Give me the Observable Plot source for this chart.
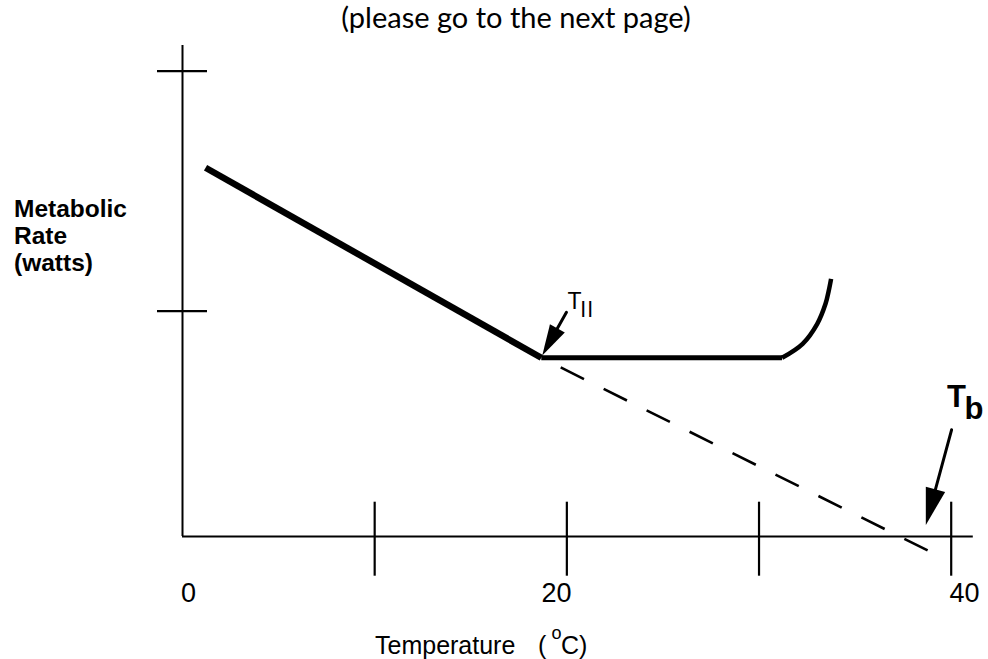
<!DOCTYPE html>
<html><head><meta charset="utf-8">
<script src="https://cdn.jsdelivr.net/npm/d3@7"></script>
<script src="https://cdn.jsdelivr.net/npm/@observablehq/plot@0.6"></script>
<style>html,body{margin:0;padding:0;background:#fff;} #chart svg{display:block;}</style>
</head><body><div id="chart"></div>
<script>
// ---------- data (temperature in °C, metabolic rate in arbitrary watts units) ----------
const coolingTemp = [1.2, 18.67];
const coolingRate = [75.1, 36.4];
const plateauTemp = [18.67, 31.2];
const plateauRate = [36.4, 36.4];
const heatTemp = [31.2, 32.27, 33.03, 33.46, 33.63, 33.75];
const heatRate = [36.4, 39.25, 43.32, 47.39, 50.1, 52.48];
const extrapTemp = [18.67, 38.78];
const extrapRate = [36.4, -2.85];
const xTickValues = [10, 20, 30, 40];
const xLabelValues = [0, 20, 40];
const xLabelTexts = ["0", "20", "40"];
const yTickValues = [45.9, 94.8];
const yLabelLines = ["Metabolic", "Rate", "(watts)"];
const axisXEnd = [41.15];
const axisYEnd = [100];
const arrowNames = ["ll", "b"];
const arrowTailTemp = [19.98, 40.02];
const arrowTailRate = [45.68, 21.73];
const arrowTipTemp = [18.72, 38.68];
const arrowTipRate = [36.86, 2.34];

// ---------- layout ----------
const W = 988, H = 659, mL = 182, mR = 37.3, mT = 45, mB = 123;
const xMax = 40, yMax = 100;
const kx = (W - mL - mR) / xMax, ky = (H - mT - mB) / yMax;

const toPts = (xs, ys) => xs.map((x, i) => ({x, y: ys[i]}));
const cooling = toPts(coolingTemp, coolingRate);
const plateau = toPts(plateauTemp, plateauRate);
const heat = toPts(heatTemp, heatRate);
const extrap = toPts(extrapTemp, extrapRate);
const arrows = arrowNames.map((n, i) => ({n, x1: arrowTailTemp[i], y1: arrowTailRate[i], x2: arrowTipTemp[i], y2: arrowTipRate[i]}));
const headSizes = [[31, 8.5], [37, 10]];

function headSymbol(a, L, w) {
  const dx = (a.x2 - a.x1) * kx, dy = -(a.y2 - a.y1) * ky;
  const len = Math.hypot(dx, dy), ux = dx / len, uy = dy / len;
  return {draw(ctx) {
    ctx.moveTo(0, 0);
    ctx.lineTo(-ux * L - uy * w, -uy * L + ux * w);
    ctx.lineTo(-ux * L + uy * w, -uy * L - ux * w);
    ctx.closePath();
  }};
}

const sans = "Liberation Sans, Arial, Helvetica, sans-serif";
const labelDx = [-1.4, 4.8, -1.8];
const labelAnchor = ["start", "end", "start"];
const yLabelBaselines = [216.7, 243.3, 270];

const chart = Plot.plot({
  width: W, height: H,
  marginLeft: mL, marginRight: mR, marginTop: mT, marginBottom: mB,
  x: {domain: [0, xMax], axis: null},
  y: {domain: [0, yMax], axis: null},
  style: {background: "white", fontFamily: sans, color: "black", overflow: "visible"},
  marks: [
    // axes
    Plot.ruleX([0], {x: d => d, y1: 0, y2: axisYEnd[0], stroke: "black", strokeWidth: 2}),
    Plot.ruleY([0], {y: d => d, x1: 0, x2: axisXEnd[0], stroke: "black", strokeWidth: 2}),
    Plot.ruleX(xTickValues, {x: d => d, y1: 0, y2: 0, insetTop: -34.3, insetBottom: -39.7, stroke: "black", strokeWidth: 2.2}),
    Plot.ruleY(yTickValues, {y: d => d, x1: 0, x2: 0, insetLeft: -25, insetRight: -25, stroke: "black", strokeWidth: 2.2}),
    ...xLabelValues.map((v, i) => Plot.text([i], {
      x: j => xLabelValues[j], y: 0, text: j => xLabelTexts[j],
      textAnchor: labelAnchor[i], lineAnchor: "bottom", dx: labelDx[i], dy: 65.5,
      fontSize: 27, fontFamily: sans
    })),
    // data lines
    Plot.line(extrap, {x: "x", y: "y", stroke: "black", strokeWidth: 2.6, strokeDasharray: "26,22", strokeDashoffset: 26.3, strokeLinecap: "butt"}),
    Plot.line(cooling, {x: "x", y: "y", stroke: "black", strokeWidth: 6.5, strokeLinecap: "butt"}),
    Plot.line(plateau, {x: "x", y: "y", stroke: "black", strokeWidth: 5, strokeLinecap: "butt"}),
    Plot.line(heat, {x: "x", y: "y", stroke: "black", strokeWidth: 4.5, curve: "catmull-rom", strokeLinecap: "butt"}),
    // annotation arrows
    Plot.arrow(arrows, {x1: "x1", y1: "y1", x2: "x2", y2: "y2", headLength: 0, insetEnd: 28, stroke: "black", strokeWidth: 3}),
    ...arrows.map((a, i) => Plot.dot([a], {x: "x2", y: "y2", symbol: headSymbol(a, headSizes[i][0], headSizes[i][1]), r: 5, fill: "black", stroke: "none"})),
    // annotation labels
    Plot.text([arrows[0]], {x: "x1", y: "y1", text: () => "T", textAnchor: "start", lineAnchor: "bottom", dx: 1, dy: -3.4, fontSize: 23, fontFamily: sans}),
    Plot.text([arrows[0]], {x: "x1", y: "y1", text: d => d.n, textAnchor: "start", lineAnchor: "bottom", dx: 14.3, dy: 5.0, fontSize: 22, fontFamily: sans}),
    Plot.text([arrows[1]], {x: "x1", y: "y1", text: () => "T", textAnchor: "start", lineAnchor: "bottom", dx: -4.6, dy: -22.6, fontSize: 31, fontWeight: "bold", fontFamily: sans}),
    Plot.text([arrows[1]], {x: "x1", y: "y1", text: d => d.n, textAnchor: "start", lineAnchor: "bottom", dx: 13, dy: -11.3, fontSize: 31, fontWeight: "bold", fontFamily: sans}),
    // titles
    Plot.text(["(please go to the next page)"], {frameAnchor: "top-left", text: d => d, dx: 333.5, dy: -18, textAnchor: "middle", lineAnchor: "bottom", fontSize: 29, fontFamily: "Lato, 'Open Sans', sans-serif"}),
    ...yLabelLines.map((s, i) => Plot.text([s], {frameAnchor: "top-left", text: d => d, dx: -168.5, dy: yLabelBaselines[i] - mT, textAnchor: "start", lineAnchor: "bottom", fontSize: 24.5, fontWeight: "bold", fontFamily: sans})),
    Plot.text(["Temperature"], {frameAnchor: "bottom-left", text: d => d, dx: 192.5, dy: 117.3, textAnchor: "start", lineAnchor: "bottom", fontSize: 25, fontFamily: sans}),
    Plot.text(["("], {frameAnchor: "bottom-left", text: d => d, dx: 355.5, dy: 117.3, textAnchor: "start", lineAnchor: "bottom", fontSize: 25, fontFamily: sans}),
    Plot.text(["o"], {frameAnchor: "bottom-left", text: d => d, dx: 369, dy: 102.3, textAnchor: "start", lineAnchor: "bottom", fontSize: 18, fontFamily: sans}),
    Plot.text(["C)"], {frameAnchor: "bottom-left", text: d => d, dx: 378.5, dy: 117.3, textAnchor: "start", lineAnchor: "bottom", fontSize: 25, fontFamily: sans})
  ]
});
d3.select(chart).selectAll("text").filter(function() { return this.textContent === "ll"; }).attr("letter-spacing", "2px");
document.getElementById("chart").appendChild(chart);
</script>
</body></html>
